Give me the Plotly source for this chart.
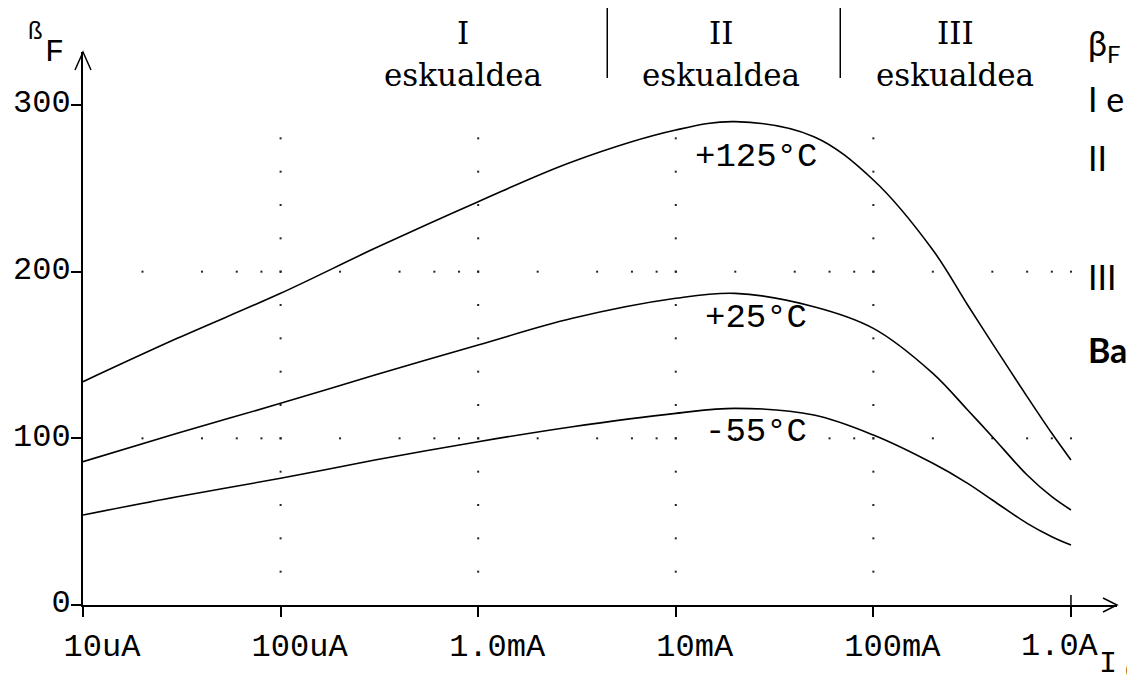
import numpy as np
import plotly.graph_objects as go

# collector current (A) and forward current gain
ic = [1e-5, 3e-5, 1e-4, 3e-4, 1e-3, 3e-3, 1e-2, 2e-2, 5e-2, 1e-1, 2e-1, 3e-1, 4e-1, 6e-1, 8e-1, 1.0]
beta_125 = [134, 160, 187, 214, 242, 266, 285, 290, 281, 255, 213, 180, 157, 125, 103, 87]
beta_25 = [86, 103, 121, 138, 156, 172, 184, 187, 179, 166, 139, 117, 101, 78, 65, 57]
beta_m55 = [54, 65, 76, 87, 98, 107, 115, 118, 114, 102, 85, 73, 63, 49, 41, 36]

curve_names = ["+125°C", "+25°C", "-55°C"]
label_x = [25.5e-3, 25.5e-3, 25.5e-3]
label_y = [269, 172, 104]

tick_vals = [1e-5, 1e-4, 1e-3, 1e-2, 1e-1, 1.0]
tick_text = ["10uA", "100uA", "1.0mA", "10mA", "100mA", "1.0A"]
ytick_vals = [0, 100, 200, 300]

region_names = ["I", "II", "III"]
region_x = [0.84e-3, 17e-3, 0.26]
region_bounds = [4.5e-3, 68e-3]

side_text = ["β<sub>F</sub>", "I e", "II", "III", "<b>Ba</b>"]
side_y = [45, 98, 158, 276, 349]

MONO = "Liberation Mono"
SERIF = "DejaVu Serif"
BLACK = "black"
# page body has an 8px margin, so the figure is placed at (8, 8)
TOP = 44
PLOT_H = 553


def main():
    fig = go.Figure()

    # dotted grid: decade columns every 20, rows at 100/200 on 2,4,6,8 x decade
    gx, gy = [], []
    for d in tick_vals[1:-1]:
        for b in range(20, 300, 20):
            gx.append(d)
            gy.append(b)
    for row in [100, 200]:
        for d in tick_vals[:-1]:
            for m in [2, 4, 6, 8, 10]:
                gx.append(d * m)
                gy.append(row)
    fig.add_trace(go.Scatter(x=gx, y=gy, mode="markers",
                             marker=dict(symbol="square", size=2, color="#222"),
                             hoverinfo="skip", showlegend=False))

    for ys in [beta_125, beta_25, beta_m55]:
        fig.add_trace(go.Scatter(x=ic, y=ys, mode="lines",
                                 line=dict(color=BLACK, width=1.6, shape="spline", smoothing=1.0),
                                 showlegend=False))

    ann = []
    for name, x, y in zip(curve_names, label_x, label_y):
        ann.append(dict(x=np.log10(x), y=y, text=name, showarrow=False,
                        font=dict(family=MONO, size=34, color=BLACK)))
    for name, x in zip(region_names, region_x):
        ann.append(dict(x=np.log10(x), y=1.034, yref="paper", yanchor="middle", text=name,
                        showarrow=False, font=dict(family=SERIF, size=31, color=BLACK)))
        ann.append(dict(x=np.log10(x), y=0.958, yref="paper", yanchor="middle", text="eskualdea",
                        showarrow=False, font=dict(family=SERIF, size=31, color=BLACK)))
    # last x tick label sits left of its tick so it stays on the page
    ann.append(dict(x=np.log10(tick_vals[-1]), y=0, yref="paper", text=tick_text[-1],
                    showarrow=False, yanchor="middle", xshift=-11, yshift=-41,
                    font=dict(family=MONO, size=32, color=BLACK)))
    # axis names
    ann.append(dict(x=0, y=1, xref="paper", yref="paper", text="F", showarrow=False,
                    xanchor="right", yanchor="middle", xshift=-17, yshift=0,
                    font=dict(family=MONO, size=32, color=BLACK)))
    ann.append(dict(x=0, y=1, xref="paper", yref="paper", text="ß", showarrow=False,
                    xanchor="right", yanchor="middle", xshift=-39, yshift=20,
                    font=dict(family=MONO, size=24, color=BLACK)))
    ann.append(dict(x=1, y=0, xref="paper", yref="paper", text="I", showarrow=False,
                    xanchor="left", yanchor="middle", xshift=-20, yshift=-59,
                    font=dict(family=MONO, size=30, color=BLACK)))
    ann.append(dict(x=1, y=0, xref="paper", yref="paper", text="C", showarrow=False,
                    xanchor="left", yanchor="middle", xshift=6, yshift=-67,
                    font=dict(family=MONO, size=26, color=BLACK)))
    # cut-off text column at the right edge
    for t, py in zip(side_text, side_y):
        ann.append(dict(x=1, y=1 - (py - 52) / PLOT_H, xref="paper", yref="paper", text=t,
                        showarrow=False, xanchor="left", yanchor="middle", xshift=-31,
                        font=dict(family="Lato", size=34, color=BLACK)))

    shapes = []
    # region separators above the plot
    for b in region_bounds:
        shapes.append(dict(type="line", xref="x", yref="paper", x0=b, x1=b,
                           y0=0.953, y1=1.08, line=dict(color=BLACK, width=1.5)))
    # axis arrow heads
    shapes.append(dict(type="path", xref="x domain", yref="y domain", xsizemode="pixel",
                       ysizemode="pixel", xanchor=0, yanchor=1,
                       path="M-8,-18 L0,0 L8,-18", line=dict(color=BLACK, width=1.5)))
    shapes.append(dict(type="path", xref="x domain", yref="y domain", xsizemode="pixel",
                       ysizemode="pixel", xanchor=1, yanchor=0,
                       path="M-14,7 L0,0 L-14,-7", line=dict(color=BLACK, width=1.5)))
    # 1.0A tick crosses the axis
    shapes.append(dict(type="line", xref="x", yref="y domain", ysizemode="pixel", yanchor=0,
                       x0=1.0, x1=1.0, y0=0, y1=10, line=dict(color=BLACK, width=1.5)))

    fig.update_layout(
        width=1127, height=670,
        margin=dict(l=75, r=18, t=TOP, b=670 - TOP - PLOT_H),
        plot_bgcolor="white", paper_bgcolor="white",
        annotations=ann, shapes=shapes,
        xaxis=dict(type="log", range=[-5, 0.233], showgrid=False, zeroline=False,
                   automargin=False, showline=True, linecolor=BLACK, linewidth=2,
                   tickvals=tick_vals, ticktext=tick_text[:-1] + [""], ticks="outside",
                   ticklen=10, tickwidth=1.5, tickcolor=BLACK, ticklabelshift=19,
                   ticklabelstandoff=1, tickfont=dict(family=MONO, size=32, color=BLACK)),
        yaxis=dict(range=[0, 331.8], showgrid=False, zeroline=False, automargin=False,
                   showline=True, linecolor=BLACK, linewidth=2,
                   tickvals=ytick_vals, ticks="outside", ticklen=10, tickwidth=1.5,
                   tickcolor=BLACK, ticklabelshift=-4, ticklabelstandoff=-6,
                   tickfont=dict(family=MONO, size=32, color=BLACK)),
    )
    fig.write_html("out.html")


if __name__ == "__main__":
    main()
